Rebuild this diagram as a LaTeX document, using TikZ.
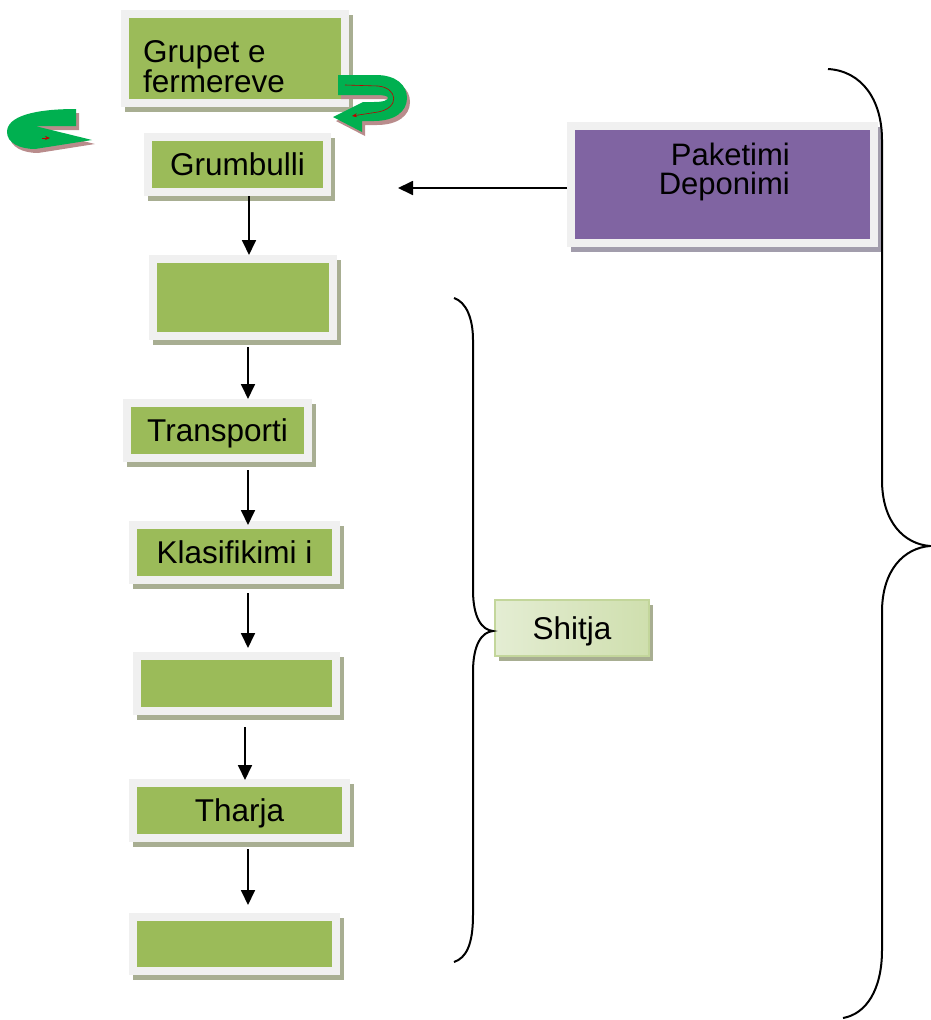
\documentclass[tikz,border=0pt]{standalone}
\usepackage{fontspec}
\setmainfont{Liberation Sans}
\usetikzlibrary{shadows,arrows.meta}
\definecolor{boxgreen}{HTML}{9BBB59}
\definecolor{framegray}{HTML}{F0F0F0}
\definecolor{shadegreen}{HTML}{A8AE92}
\definecolor{boxpurple}{HTML}{8064A2}
\definecolor{shadepurple}{HTML}{A29DAC}
\definecolor{arrowgreen}{HTML}{00B050}
\definecolor{arrowshade}{HTML}{B98C8C}
\definecolor{shitjalight}{HTML}{E4EDD3}
\definecolor{shitjadark}{HTML}{CFDFAE}
\definecolor{shitjaedge}{HTML}{C3D69B}
\begin{document}
\begin{tikzpicture}[x=1pt, y=-1pt, font=\fontsize{31.5}{28}\selectfont,
  framebox/.style={draw=framegray, line width=8pt, text height=22pt, text depth=0pt, inner sep=0pt},
  stepbox/.style={framebox, fill=boxgreen,
    general shadow={draw=shadegreen, fill=shadegreen, line width=8pt, shadow xshift=3.5pt, shadow yshift=-5pt}},
  packbox/.style={framebox, fill=boxpurple,
    general shadow={draw=shadepurple, fill=shadepurple, line width=8pt, shadow xshift=3.5pt, shadow yshift=-5pt}},
  flow/.style={-{Triangle[width=14pt,length=15pt]}, line width=1.8pt},
  brace/.style={line width=2pt}]
\useasboundingbox (0,0) rectangle (931,1020);

% chain of steps
\node[stepbox, minimum width=220pt, minimum height=89pt] (grupet) at (235,58.5) {};
\node[anchor=north west, align=left, inner sep=0pt, font=\fontsize{31.5}{27}\selectfont] (grupettxt) at (143,40) {Grupet e\\fermereve};
\node[stepbox, minimum width=179pt, minimum height=55pt] (grumbulli) at (237.5,164.5) {Grumbulli};
\node[stepbox, minimum width=180pt, minimum height=77pt] (bosh1) at (243,297.5) {};
\node[stepbox, minimum width=181pt, minimum height=55pt] (transporti) at (217.5,430.5) {Transporti};
\node[stepbox, minimum width=203pt, minimum height=55pt] (klasifikimi) at (234.5,552.5) {Klasifikimi i};
\node[stepbox, minimum width=199pt, minimum height=55pt] (bosh2) at (236.5,683.5) {};
\node[stepbox, minimum width=213pt, minimum height=55pt] (tharja) at (239.5,810.5) {Tharja};
\node[stepbox, minimum width=203pt, minimum height=54pt] (bosh3) at (234.5,944) {};

% packing and selling
\node[packbox, minimum width=303pt, minimum height=117pt] (paketimi) at (722.5,184.5) {};
\node[anchor=north east, align=right, inner sep=0pt, font=\fontsize{31}{29}\selectfont] (paketimitxt) at (790,143) {Paketimi\\Deponimi};
\node[draw=shitjaedge, line width=1.5pt, left color=shitjalight, right color=shitjadark,
  general shadow={fill=shadegreen, shadow xshift=4pt, shadow yshift=-5pt},
  minimum width=154pt, minimum height=56pt, text height=22pt, text depth=0pt, inner sep=0pt] (shitja) at (572,628) {Shitja};

\draw[flow] (grumbulli.south -| 249,0) to[shorten >=5pt] (bosh1.north -| 249,0);
\draw[flow, shorten <=7pt] (bosh1.south -| 248,0) -- (transporti.north -| 248,0);
\draw[flow, shorten <=8pt, shorten >=-4pt] (transporti.south -| 248,0) -- (klasifikimi.north -| 248,0);
\draw[flow, shorten <=9pt, shorten >=4pt] (klasifikimi.south -| 248,0) -- (bosh2.north -| 248,0);
\draw[flow, shorten <=12pt, shorten >=-1pt] (bosh2.south -| 245,0) -- (tharja.north -| 245,0);
\draw[flow, shorten <=7pt, shorten >=8pt] (tharja.south -| 248,0) -- (bosh3.north -| 248,0);
\coordinate (pakend) at (398,188);
\draw[flow] (paketimi.west |- 0,188) -- (pakend);

% u-turn arrows
\foreach \dx/\dy/\col in {3/4/arrowshade, 0/0/arrowgreen}
{
\begin{scope}[shift={(\dx,\dy)}]
\fill[\col] (338,75) -- (376,75) .. controls (396,75) and (407,85) .. (407,98)
  .. controls (407,112) and (394,121) .. (374,121) -- (362,121) -- (362,132) -- (333,117)
  -- (363,102) -- (374,102) .. controls (384,102) and (388,100) .. (388,98)
  .. controls (388,96) and (384,95) .. (376,95) -- (338,95) -- cycle;
\fill[\col] (76,109) .. controls (35,109) and (7,116) .. (7,132) .. controls (7,143) and (20,149) .. (35,149)
  -- (92,140) -- (35,126) -- (76,126) -- cycle;
\end{scope}
}
\draw[red!75!black, line width=0.6pt, -{Stealth[length=5pt,width=4pt]}] (345,85) -- (378,86)
  .. controls (398,88) and (400,108) .. (378,112) -- (352,116);
\draw[red!75!black, line width=0.6pt, -{Stealth[length=5pt,width=4pt]}] (42,138) -- (50,138);

% braces
\draw[brace] (454,298) .. controls (466,302) and (473,318) .. (473,340) -- (473,590)
  .. controls (473,618) and (482,630) .. (493,631) .. controls (482,632) and (473,644) .. (473,672)
  -- (473,915) .. controls (473,945) and (466,958) .. (454,962);
\draw[brace] (828,69) .. controls (862,71) and (882,100) .. (882,140) -- (882,480)
  .. controls (882,522) and (904,544) .. (930,546) .. controls (904,548) and (882,570) .. (882,612)
  -- (882,950) .. controls (882,990) and (866,1014) .. (843,1018);
\end{tikzpicture}
\end{document}
